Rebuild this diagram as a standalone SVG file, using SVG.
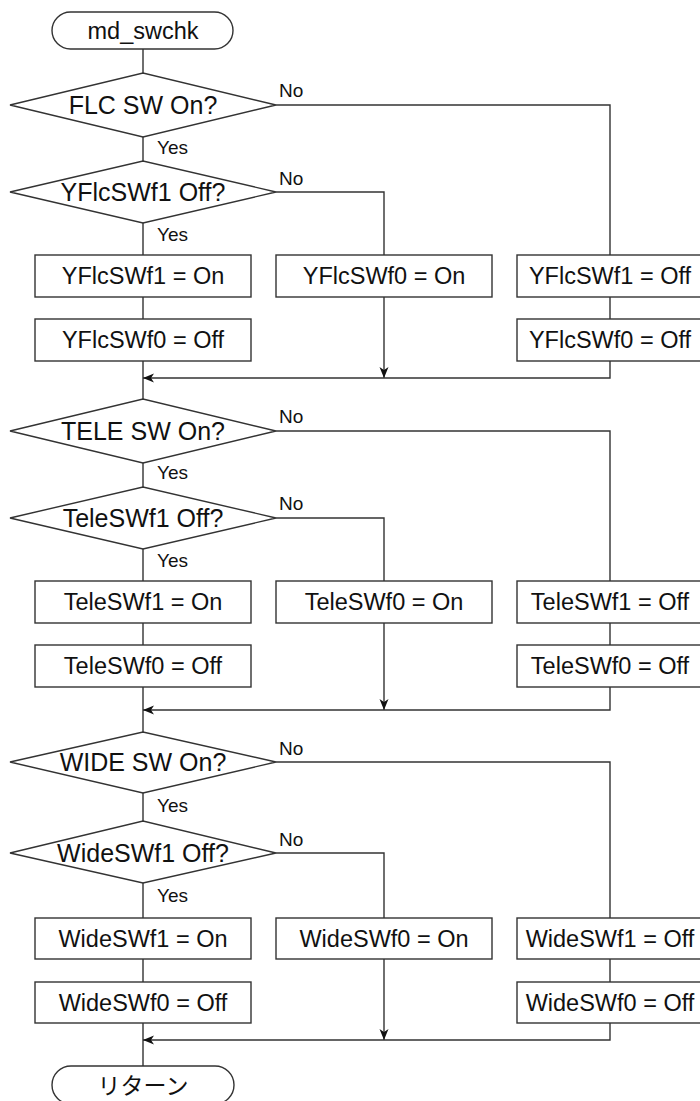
<svg xmlns="http://www.w3.org/2000/svg" width="700" height="1101" viewBox="0 0 700 1101">
<style>
.s{fill:#fff;stroke:#333;stroke-width:1.4}
.c{fill:none;stroke:#333;stroke-width:1.4}
.t{font-family:"Liberation Sans",Arial,sans-serif;font-size:23.5px;fill:#111;text-anchor:middle}
.d{font-family:"Liberation Sans",Arial,sans-serif;font-size:25px;fill:#111;text-anchor:middle}
.l{font-family:"Liberation Sans",Arial,sans-serif;font-size:19px;fill:#111}
.j{font-family:"Noto Sans CJK JP","Liberation Sans",sans-serif;font-size:23px;fill:#111;text-anchor:middle}
</style>
<defs>
<marker id="ah" markerWidth="12" markerHeight="10" refX="11" refY="4.5" orient="auto" markerUnits="userSpaceOnUse">
<path d="M0,0 L11,4.5 L0,9 L3,4.5 Z" fill="#111"/>
</marker>
</defs>
<rect width="700" height="1101" fill="#fff"/>
<g id="connectors">
<path class="c" d="M143,49 V73 M143,137 V161 M143,223 V255 M143,297 V319 M143,361 V399"/>
<path class="c" d="M276,105 H610 V255 M610,297 V319"/>
<path class="c" d="M276,192 H384 V255"/>
<path class="c" d="M384,297 V378" marker-end="url(#ah)"/>
<path class="c" d="M610,361 V378 H143" marker-end="url(#ah)"/>
<path class="c" d="M143,463 V487 M143,549 V581 M143,623 V645 M143,687 V732"/>
<path class="c" d="M276,431 H610 V581 M610,623 V645"/>
<path class="c" d="M276,518 H384 V581"/>
<path class="c" d="M384,623 V710" marker-end="url(#ah)"/>
<path class="c" d="M610,687 V710 H143" marker-end="url(#ah)"/>
<path class="c" d="M143,793 V821 M143,883 V918 M143,959 V982 M143,1023 V1066"/>
<path class="c" d="M276,762 H610 V918 M610,959 V982"/>
<path class="c" d="M276,853 H384 V918"/>
<path class="c" d="M384,959 V1040" marker-end="url(#ah)"/>
<path class="c" d="M610,1023 V1040 H143" marker-end="url(#ah)"/>
<text class="l" x="279" y="97">No</text>
<text class="l" x="157" y="154">Yes</text>
<text class="l" x="279" y="185">No</text>
<text class="l" x="157" y="241">Yes</text>
<text class="l" x="279" y="423">No</text>
<text class="l" x="157" y="479">Yes</text>
<text class="l" x="279" y="510">No</text>
<text class="l" x="157" y="567">Yes</text>
<text class="l" x="279" y="755">No</text>
<text class="l" x="157" y="812">Yes</text>
<text class="l" x="279" y="846">No</text>
<text class="l" x="157" y="902">Yes</text>
</g>
<g id="start"><rect class="s" x="52" y="12" width="181" height="37" rx="18.5"/><text class="t" x="143" y="39">md_swchk</text></g>
<g id="d_flc"><polygon class="s" points="10,105 143,73 276,105 143,137"/><text class="d" x="143" y="114">FLC SW On?</text></g>
<g id="d_yflc1"><polygon class="s" points="10,192 143,161 276,192 143,223"/><text class="d" x="143" y="201">YFlcSWf1 Off?</text></g>
<g id="b_yflc1on"><rect class="s" x="35" y="255" width="216" height="42"/><text class="t" x="143" y="284">YFlcSWf1 = On</text></g>
<g id="b_yflc0off"><rect class="s" x="35" y="319" width="216" height="42"/><text class="t" x="143" y="348">YFlcSWf0 = Off</text></g>
<g id="b_yflc0on"><rect class="s" x="276" y="255" width="216" height="42"/><text class="t" x="384" y="284">YFlcSWf0 = On</text></g>
<g id="b_yflc1off"><rect class="s" x="517" y="255" width="186" height="42"/><text class="t" x="610" y="284">YFlcSWf1 = Off</text></g>
<g id="b_yflc0off2"><rect class="s" x="517" y="319" width="186" height="42"/><text class="t" x="610" y="348">YFlcSWf0 = Off</text></g>
<g id="d_tele"><polygon class="s" points="10,431 143,399 276,431 143,463"/><text class="d" x="143" y="440">TELE SW On?</text></g>
<g id="d_tele1"><polygon class="s" points="10,518 143,487 276,518 143,549"/><text class="d" x="143" y="527">TeleSWf1 Off?</text></g>
<g id="b_tele1on"><rect class="s" x="35" y="581" width="216" height="42"/><text class="t" x="143" y="610">TeleSWf1 = On</text></g>
<g id="b_tele0off"><rect class="s" x="35" y="645" width="216" height="42"/><text class="t" x="143" y="674">TeleSWf0 = Off</text></g>
<g id="b_tele0on"><rect class="s" x="276" y="581" width="216" height="42"/><text class="t" x="384" y="610">TeleSWf0 = On</text></g>
<g id="b_tele1off"><rect class="s" x="517" y="581" width="186" height="42"/><text class="t" x="610" y="610">TeleSWf1 = Off</text></g>
<g id="b_tele0off2"><rect class="s" x="517" y="645" width="186" height="42"/><text class="t" x="610" y="674">TeleSWf0 = Off</text></g>
<g id="d_wide"><polygon class="s" points="10,762 143,732 276,762 143,793"/><text class="d" x="143" y="771">WIDE SW On?</text></g>
<g id="d_wide1"><polygon class="s" points="10,853 143,821 276,853 143,883"/><text class="d" x="143" y="862">WideSWf1 Off?</text></g>
<g id="b_wide1on"><rect class="s" x="35" y="918" width="216" height="41"/><text class="t" x="143" y="947">WideSWf1 = On</text></g>
<g id="b_wide0off"><rect class="s" x="35" y="982" width="216" height="41"/><text class="t" x="143" y="1011">WideSWf0 = Off</text></g>
<g id="b_wide0on"><rect class="s" x="276" y="918" width="216" height="41"/><text class="t" x="384" y="947">WideSWf0 = On</text></g>
<g id="b_wide1off"><rect class="s" x="517" y="918" width="186" height="41"/><text class="t" x="610" y="947">WideSWf1 = Off</text></g>
<g id="b_wide0off2"><rect class="s" x="517" y="982" width="186" height="41"/><text class="t" x="610" y="1011">WideSWf0 = Off</text></g>
<g id="end"><rect class="s" x="52" y="1066" width="182" height="38" rx="19"/><text class="j" x="143" y="1094">リターン</text></g>
</svg>
